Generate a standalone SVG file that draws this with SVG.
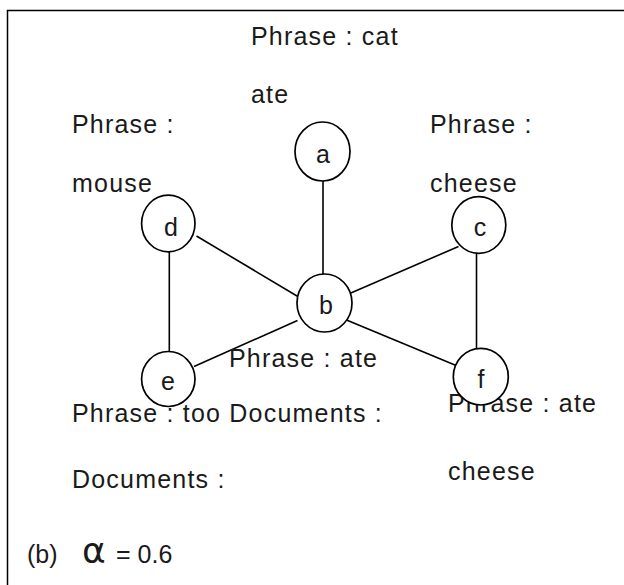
<svg xmlns="http://www.w3.org/2000/svg" width="624" height="585" viewBox="0 0 624 585">
  <style>
    .frame { fill: none; stroke: #000; stroke-width: 1.5; }
    .edge { stroke: #000; stroke-width: 1.6; fill: none; }
    .node ellipse { fill: #fff; stroke: #000; stroke-width: 1.7; }
    .node text { font-family: "Liberation Sans", Arial, sans-serif; font-size: 25px; fill: #1a1a1a; text-anchor: middle; }
    .lbl { font-family: "Liberation Sans", Arial, sans-serif; font-size: 25px; fill: #1a1a1a; letter-spacing: 1.2px; }
  </style>
  <rect width="624" height="585" fill="#fff"/>

  <!-- outer frame: only top and left edges fall inside the view -->
  <path class="frame" d="M7.5 630 V10.5 H640"/>

  <!-- edges -->
  <g id="edges">
    <line class="edge" x1="323" y1="181" x2="323" y2="276"/>
    <line class="edge" x1="196.5" y1="236" x2="299.5" y2="297.5"/>
    <line class="edge" x1="458.5" y1="246.5" x2="348.5" y2="294"/>
    <line class="edge" x1="297.5" y1="320.5" x2="194" y2="366.5"/>
    <line class="edge" x1="346.5" y1="320" x2="458.5" y2="366.5"/>
    <line class="edge" x1="169.3" y1="251.5" x2="169.3" y2="351.5"/>
    <line class="edge" x1="476.5" y1="253" x2="476.5" y2="349"/>
  </g>

  <!-- descriptive labels -->
  <g id="labels">
    <text class="lbl" x="251" y="45">Phrase : cat</text>
    <text class="lbl" x="251" y="103">ate</text>
    <text class="lbl" x="72" y="133">Phrase :</text>
    <text class="lbl" x="72" y="192">mouse</text>
    <text class="lbl" x="430" y="133">Phrase :</text>
    <text class="lbl" x="430" y="192">cheese</text>
    <text class="lbl" x="229" y="366.5">Phrase : ate</text>
    <text class="lbl" x="72" y="421.5">Phrase : too Documents :</text>
    <text class="lbl" x="72" y="488">Documents :</text>
    <text class="lbl" x="448" y="411.5">Phrase : ate</text>
    <text class="lbl" x="448" y="480">cheese</text>
  </g>

  <!-- nodes -->
  <g id="node-a" class="node"><ellipse cx="322.5" cy="151.5" rx="27.5" ry="29.5"/><text x="323" y="163">a</text></g>
  <g id="node-b" class="node"><ellipse cx="324.5" cy="303" rx="27.5" ry="29"/><text x="326" y="314">b</text></g>
  <g id="node-c" class="node"><ellipse cx="478.8" cy="225" rx="27" ry="28.3"/><text x="480" y="236">c</text></g>
  <g id="node-d" class="node"><ellipse cx="168.3" cy="223.5" rx="26.7" ry="28.3"/><text x="171" y="236">d</text></g>
  <g id="node-e" class="node"><ellipse cx="168.3" cy="379" rx="26.7" ry="27.5"/><text x="168" y="390">e</text></g>
  <g id="node-f" class="node"><ellipse cx="480.8" cy="376.7" rx="27.5" ry="28.3"/><text x="481" y="388">f</text></g>

  <!-- caption -->
  <g id="caption" style="font-family: 'Liberation Sans', Arial, sans-serif; font-size: 25px; fill: #1a1a1a;">
    <text x="27" y="563">(b)</text>
    <text x="82" y="563" style="font-family: 'DejaVu Sans', sans-serif; font-size: 36px;">α</text>
    <text x="116" y="563">= 0.6</text>
  </g>
</svg>
